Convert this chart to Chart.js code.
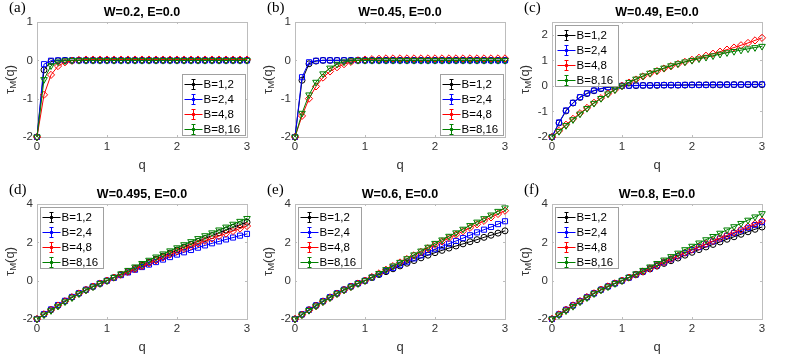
<!DOCTYPE html>
<html>
<head>
<meta charset="utf-8">
<script src="https://cdn.jsdelivr.net/npm/chart.js@4.4.1/dist/chart.umd.min.js"></script>
<style>
  body { margin: 0; background: #fff; width: 789px; height: 354px; position: relative; overflow: hidden; }
  canvas { position: absolute; }
</style>
</head>
<body>
<canvas id="pa" width="255" height="172" style="left:0px;top:0px"></canvas>
<canvas id="pb" width="255" height="172" style="left:258px;top:0px"></canvas>
<canvas id="pc" width="255" height="172" style="left:515px;top:0px"></canvas>
<canvas id="pd" width="255" height="172" style="left:0px;top:182px"></canvas>
<canvas id="pe" width="255" height="172" style="left:258px;top:182px"></canvas>
<canvas id="pf" width="255" height="172" style="left:515px;top:182px"></canvas>
<script>
// q grid and tick labels
const Q = [0.0, 0.1, 0.2, 0.3, 0.4, 0.5, 0.6, 0.7, 0.8, 0.9,
           1.0, 1.1, 1.2, 1.3, 1.4, 1.5, 1.6, 1.7, 1.8, 1.9,
           2.0, 2.1, 2.2, 2.3, 2.4, 2.5, 2.6, 2.7, 2.8, 2.9, 3.0];
const SERIES_LABELS = ['B=1,2', 'B=2,4', 'B=4,8', 'B=8,16'];
const X_TICKS = [0, 1, 2, 3];
const Y_TICKS_AB = [-2, -1, 0, 1];
const Y_TICKS_C = [-2, -1, 0, 1, 2];
const Y_TICKS_DEF = [-2, 0, 2, 4];

// (a) W=0.2
const a_b12 = [-2, -0.25, -0.03, -0.01, 0, 0, 0, 0, 0, 0,
               0, 0, 0, 0, 0, 0, 0, 0, 0, 0,
               0, 0, 0, 0, 0, 0, 0, 0, 0, 0, 0];
const a_b24 = [-2, -0.1, -0.01, 0, 0, 0, 0, 0, 0, 0,
               0, 0, 0, 0, 0, 0, 0, 0, 0, 0,
               0, 0, 0, 0, 0, 0, 0, 0, 0, 0, 0];
const a_b48 = [-2, -0.9, -0.38, -0.15, -0.05, -0.01, 0.01, 0.02, 0.02, 0.02,
               0.02, 0.02, 0.02, 0.02, 0.02, 0.02, 0.02, 0.02, 0.02, 0.02,
               0.02, 0.02, 0.02, 0.02, 0.02, 0.02, 0.02, 0.02, 0.02, 0.02, 0.02];
const a_b816 = [-2, -0.5, -0.14, -0.04, -0.01, 0, 0, 0, 0, 0,
                0, 0, 0, 0, 0, 0, 0, 0, 0, 0,
                0, 0, 0, 0, 0, 0, 0, 0, 0, 0, 0];

// (b) W=0.45
const b_b12 = [-2, -0.52, -0.09, -0.02, 0, 0, 0, 0, 0, 0,
               0, 0, 0, 0, 0, 0, 0, 0, 0, 0,
               0, 0, 0, 0, 0, 0, 0, 0, 0, 0, 0];
const b_b24 = [-2, -0.44, -0.05, -0.01, 0, 0, 0, 0, 0, 0,
               0, 0, 0, 0, 0, 0, 0, 0, 0, 0,
               0, 0, 0, 0, 0, 0, 0, 0, 0, 0, 0];
const b_b48 = [-2, -1.45, -1.0, -0.68, -0.45, -0.29, -0.18, -0.1, -0.04, 0,
               0.02, 0.03, 0.04, 0.05, 0.05, 0.05, 0.05, 0.05, 0.05, 0.05,
               0.05, 0.05, 0.05, 0.05, 0.05, 0.05, 0.05, 0.05, 0.05, 0.05, 0.05];
const b_b816 = [-2, -1.38, -0.9, -0.57, -0.35, -0.2, -0.1, -0.04, -0.01, 0,
                0, 0, 0, 0, 0, 0, 0, 0, 0, 0,
                0, 0, 0, 0, 0, 0, 0, 0, 0, 0, 0];

// (c) W=0.49
const c_b12 = [-2, -1.45, -0.98, -0.67, -0.45, -0.3, -0.19, -0.11, -0.06, -0.02,
               0, 0.01, 0.01, 0.02, 0.02, 0.02, 0.03, 0.03, 0.03, 0.03,
               0.04, 0.04, 0.04, 0.04, 0.04, 0.05, 0.05, 0.05, 0.05, 0.05, 0.05];
const c_b24 = [-2, -1.43, -0.96, -0.66, -0.44, -0.29, -0.18, -0.1, -0.05, -0.02,
               0, 0.01, 0.02, 0.02, 0.02, 0.03, 0.03, 0.03, 0.03, 0.04,
               0.04, 0.04, 0.04, 0.05, 0.05, 0.05, 0.05, 0.05, 0.06, 0.06, 0.06];
const c_b48 = [-2, -1.76, -1.52, -1.29, -1.07, -0.86, -0.66, -0.48, -0.31, -0.15,
               0, 0.13, 0.25, 0.37, 0.48, 0.58, 0.68, 0.77, 0.86, 0.94,
               1.02, 1.1, 1.18, 1.26, 1.34, 1.42, 1.5, 1.59, 1.68, 1.78, 1.88];
const c_b816 = [-2, -1.78, -1.55, -1.32, -1.1, -0.88, -0.68, -0.49, -0.31, -0.15,
                0, 0.14, 0.27, 0.39, 0.5, 0.6, 0.7, 0.79, 0.87, 0.94,
                1.0, 1.06, 1.12, 1.18, 1.24, 1.3, 1.35, 1.4, 1.45, 1.5, 1.55];

// (d) W=0.495
const d_b12 = [-2, -1.75, -1.52, -1.29, -1.07, -0.86, -0.66, -0.48, -0.31, -0.15,
               0, 0.16, 0.32, 0.48, 0.64, 0.8, 0.96, 1.12, 1.28, 1.44,
               1.6, 1.75, 1.9, 2.05, 2.2, 2.35, 2.5, 2.64, 2.78, 2.92, 3.05];
const d_b24 = [-2, -1.74, -1.5, -1.27, -1.05, -0.85, -0.65, -0.47, -0.3, -0.14,
               0, 0.15, 0.29, 0.43, 0.57, 0.71, 0.84, 0.97, 1.1, 1.23,
               1.36, 1.48, 1.6, 1.72, 1.84, 1.95, 2.05, 2.15, 2.25, 2.35, 2.44];
const d_b48 = [-2, -1.76, -1.53, -1.3, -1.08, -0.87, -0.67, -0.48, -0.31, -0.15,
               0, 0.16, 0.31, 0.46, 0.61, 0.76, 0.91, 1.06, 1.21, 1.36,
               1.52, 1.66, 1.8, 1.94, 2.08, 2.2, 2.33, 2.46, 2.59, 2.72, 2.85];
const d_b816 = [-2, -1.78, -1.56, -1.33, -1.1, -0.89, -0.68, -0.49, -0.32, -0.15,
                0, 0.18, 0.36, 0.54, 0.72, 0.9, 1.07, 1.24, 1.4, 1.56,
                1.72, 1.88, 2.04, 2.2, 2.35, 2.5, 2.65, 2.8, 2.95, 3.1, 3.25];

// (e) W=0.6
const e_b12 = [-2, -1.76, -1.52, -1.29, -1.07, -0.86, -0.66, -0.47, -0.3, -0.14,
               0, 0.16, 0.32, 0.47, 0.62, 0.77, 0.91, 1.05, 1.19, 1.33,
               1.46, 1.58, 1.7, 1.81, 1.92, 2.03, 2.14, 2.26, 2.37, 2.48, 2.6];
const e_b24 = [-2, -1.76, -1.52, -1.29, -1.07, -0.86, -0.66, -0.47, -0.3, -0.14,
               0, 0.17, 0.34, 0.51, 0.67, 0.83, 0.99, 1.16, 1.32, 1.48,
               1.64, 1.79, 1.93, 2.07, 2.22, 2.37, 2.52, 2.66, 2.8, 2.95, 3.1];
const e_b48 = [-2, -1.78, -1.55, -1.32, -1.1, -0.89, -0.68, -0.49, -0.32, -0.15,
               0, 0.19, 0.38, 0.57, 0.76, 0.95, 1.13, 1.32, 1.5, 1.69,
               1.87, 2.05, 2.23, 2.4, 2.58, 2.76, 2.94, 3.12, 3.3, 3.48, 3.65];
const e_b816 = [-2, -1.78, -1.55, -1.32, -1.1, -0.89, -0.68, -0.49, -0.32, -0.15,
                0, 0.19, 0.38, 0.58, 0.77, 0.96, 1.15, 1.35, 1.55, 1.75,
                1.95, 2.13, 2.32, 2.5, 2.69, 2.88, 3.06, 3.24, 3.43, 3.62, 3.8];

// (f) W=0.8
const f_b12 = [-2, -1.76, -1.52, -1.29, -1.07, -0.86, -0.66, -0.47, -0.3, -0.14,
               0, 0.16, 0.31, 0.46, 0.61, 0.76, 0.9, 1.04, 1.18, 1.33,
               1.48, 1.62, 1.76, 1.89, 2.02, 2.16, 2.29, 2.42, 2.55, 2.68, 2.8];
const f_b24 = [-2, -1.76, -1.52, -1.29, -1.07, -0.86, -0.66, -0.47, -0.3, -0.14,
               0, 0.16, 0.32, 0.48, 0.64, 0.8, 0.96, 1.12, 1.28, 1.44,
               1.6, 1.75, 1.9, 2.05, 2.2, 2.34, 2.48, 2.62, 2.76, 2.9, 3.05];
const f_b48 = [-2, -1.76, -1.52, -1.29, -1.07, -0.86, -0.66, -0.47, -0.3, -0.14,
               0, 0.16, 0.32, 0.48, 0.64, 0.8, 0.97, 1.13, 1.3, 1.46,
               1.62, 1.77, 1.92, 2.07, 2.22, 2.37, 2.52, 2.67, 2.82, 2.97, 3.12];
const f_b816 = [-2, -1.79, -1.57, -1.34, -1.11, -0.89, -0.68, -0.49, -0.32, -0.15,
                0, 0.18, 0.36, 0.54, 0.72, 0.9, 1.08, 1.26, 1.44, 1.62,
                1.8, 1.97, 2.14, 2.31, 2.48, 2.65, 2.82, 2.99, 3.16, 3.33, 3.5];

// marker styles per series (MATLAB-like)
const STYLES = [
  { color: '#000000', point: 'circle', radius: 3, rotation: 0 },
  { color: '#0000ff', point: 'rect', radius: 3.6, rotation: 0 },
  { color: '#ff0000', point: 'rectRot', radius: 3.6, rotation: 0 },
  { color: '#008000', point: 'triangle', radius: 3.8, rotation: 180 }
];

const FONT = '"Liberation Sans", Arial, sans-serif';
const BOX_COLOR = '#bdbdbd';
const TEXT_COLOR = '#333333';

const PANELS = [
  { id: 'pa', tag: '(a)', title: 'W=0.2, E=0.0', series: [a_b12, a_b24, a_b48, a_b816], yMin: -2, yMax: 1, yTicks: Y_TICKS_AB, legend: 'br' },
  { id: 'pb', tag: '(b)', title: 'W=0.45, E=0.0', series: [b_b12, b_b24, b_b48, b_b816], yMin: -2, yMax: 1, yTicks: Y_TICKS_AB, legend: 'br' },
  { id: 'pc', tag: '(c)', title: 'W=0.49, E=0.0', series: [c_b12, c_b24, c_b48, c_b816], yMin: -2, yMax: 2.5, yTicks: Y_TICKS_C, legend: 'tl' },
  { id: 'pd', tag: '(d)', title: 'W=0.495, E=0.0', series: [d_b12, d_b24, d_b48, d_b816], yMin: -2, yMax: 4, yTicks: Y_TICKS_DEF, legend: 'tl' },
  { id: 'pe', tag: '(e)', title: 'W=0.6, E=0.0', series: [e_b12, e_b24, e_b48, e_b816], yMin: -2, yMax: 4, yTicks: Y_TICKS_DEF, legend: 'tl' },
  { id: 'pf', tag: '(f)', title: 'W=0.8, E=0.0', series: [f_b12, f_b24, f_b48, f_b816], yMin: -2, yMax: 4, yTicks: Y_TICKS_DEF, legend: 'tl' }
];

// box, inward ticks, titles, tag and errorbar-style legend
const panelDecor = {
  id: 'panelDecor',
  beforeDatasetsDraw(chart, args, opts) {
    const ctx = chart.ctx;
    const a = chart.chartArea;
    const xs = chart.scales.x, ys = chart.scales.y;
    ctx.save();
    ctx.strokeStyle = BOX_COLOR;
    ctx.lineWidth = 1;
    ctx.strokeRect(Math.round(a.left) + 0.5, Math.round(a.top) + 0.5, Math.round(a.width), Math.round(a.height));
    ctx.beginPath();
    X_TICKS.forEach(v => {
      const px = Math.round(xs.getPixelForValue(v)) + 0.5;
      ctx.moveTo(px, a.bottom); ctx.lineTo(px, a.bottom - 2);
      ctx.moveTo(px, a.top); ctx.lineTo(px, a.top + 2);
    });
    opts.yTicks.forEach(v => {
      const py = Math.round(ys.getPixelForValue(v)) + 0.5;
      ctx.moveTo(a.left, py); ctx.lineTo(a.left + 2, py);
      ctx.moveTo(a.right, py); ctx.lineTo(a.right - 2, py);
    });
    ctx.stroke();
    ctx.restore();
  },
  afterDraw(chart, args, opts) {
    const ctx = chart.ctx;
    const a = chart.chartArea;
    const cx = (a.left + a.right) / 2;
    ctx.save();

    // title
    ctx.fillStyle = '#000';
    ctx.font = 'bold 12.5px ' + FONT;
    ctx.textAlign = 'center';
    ctx.textBaseline = 'middle';
    ctx.fillText(opts.title, cx, a.top - 9);

    // panel tag
    ctx.font = '15px "Liberation Serif", "Times New Roman", serif';
    ctx.textAlign = 'left';
    ctx.fillText(opts.tag, a.left - 28, a.top - 14);

    // x label
    ctx.fillStyle = TEXT_COLOR;
    ctx.font = '13px ' + FONT;
    ctx.textAlign = 'center';
    ctx.fillText('q', cx, a.bottom + 28);

    // y label tau_M(q)
    ctx.save();
    ctx.translate(a.left - 27, (a.top + a.bottom) / 2);
    ctx.rotate(-Math.PI / 2);
    ctx.textAlign = 'left';
    ctx.font = '13px ' + FONT;
    const w1 = ctx.measureText('τ').width;
    const w3 = ctx.measureText('(q)').width;
    ctx.font = '9.5px ' + FONT;
    const w2 = ctx.measureText('M').width;
    let x0 = -(w1 + w2 + w3) / 2;
    ctx.font = '13px ' + FONT;
    ctx.fillText('τ', x0, 0);
    ctx.font = '9.5px ' + FONT;
    ctx.fillText('M', x0 + w1, 3.5);
    ctx.font = '13px ' + FONT;
    ctx.fillText('(q)', x0 + w1 + w2, 0);
    ctx.restore();

    // legend
    const lw = 63, lh = 61;
    let lx, ly;
    if (opts.legend === 'br') { lx = a.right - lw - 2; ly = a.bottom - lh - 2; }
    else { lx = a.left + 3; ly = a.top + 3; }
    lx = Math.round(lx) + 0.5; ly = Math.round(ly) + 0.5;
    ctx.fillStyle = '#ffffff';
    ctx.fillRect(lx, ly, lw, lh);
    ctx.strokeStyle = '#a0a0a0';
    ctx.lineWidth = 1;
    ctx.strokeRect(lx, ly, lw, lh);
    ctx.font = '11.5px ' + FONT;
    ctx.textAlign = 'left';
    ctx.textBaseline = 'middle';
    SERIES_LABELS.forEach((lab, i) => {
      const y = Math.round(ly + 9 + i * 15) + 0.5;
      const col = STYLES[i].color;
      const mx = lx + 11;
      ctx.strokeStyle = col;
      ctx.fillStyle = col;
      ctx.beginPath();
      ctx.moveTo(lx + 2, y); ctx.lineTo(lx + 20, y);
      ctx.moveTo(mx, y - 5); ctx.lineTo(mx, y + 5);
      ctx.moveTo(mx - 2, y - 5); ctx.lineTo(mx + 2, y - 5);
      ctx.moveTo(mx - 2, y + 5); ctx.lineTo(mx + 2, y + 5);
      ctx.stroke();
      ctx.beginPath();
      ctx.arc(mx, y, 1.8, 0, Math.PI * 2);
      ctx.fill();
      ctx.fillStyle = '#000';
      ctx.fillText(lab, lx + 21, y + 0.5);
    });
    ctx.restore();
  }
};

PANELS.forEach(p => {
  const datasets = p.series.map((vals, i) => ({
    label: SERIES_LABELS[i],
    data: Q.map((q, k) => ({ x: q, y: vals[k] })),
    borderColor: STYLES[i].color,
    backgroundColor: 'rgba(0,0,0,0)',
    borderWidth: 1,
    pointStyle: STYLES[i].point,
    pointRadius: STYLES[i].radius,
    pointRotation: STYLES[i].rotation,
    pointBorderWidth: 1,
    pointBorderColor: STYLES[i].color,
    pointBackgroundColor: 'rgba(0,0,0,0)',
    tension: 0,
    clip: false,
    order: 4 - i
  }));

  new Chart(document.getElementById(p.id), {
    type: 'line',
    data: { datasets },
    options: {
      responsive: false,
      animation: false,
      layout: { padding: { top: 22, right: 8, left: 0, bottom: 0 } },
      scales: {
        x: {
          type: 'linear',
          min: 0, max: 3,
          afterBuildTicks: s => { s.ticks = X_TICKS.map(v => ({ value: v })); },
          afterFit: s => { s.height = 35; },
          grid: { display: false, drawTicks: false },
          border: { display: false },
          ticks: { padding: 3, color: TEXT_COLOR, font: { family: FONT, size: 11.5 }, maxRotation: 0 }
        },
        y: {
          type: 'linear',
          min: p.yMin, max: p.yMax,
          afterBuildTicks: s => { s.ticks = p.yTicks.map(v => ({ value: v })); },
          afterFit: s => { s.width = 37; },
          grid: { display: false, drawTicks: false },
          border: { display: false },
          ticks: { padding: 4, color: TEXT_COLOR, font: { family: FONT, size: 11.5 } }
        }
      },
      plugins: {
        legend: { display: false },
        tooltip: { enabled: false },
        panelDecor: { title: p.title, tag: p.tag, legend: p.legend, yTicks: p.yTicks }
      }
    },
    plugins: [panelDecor]
  });
});
</script>
</body>
</html>
